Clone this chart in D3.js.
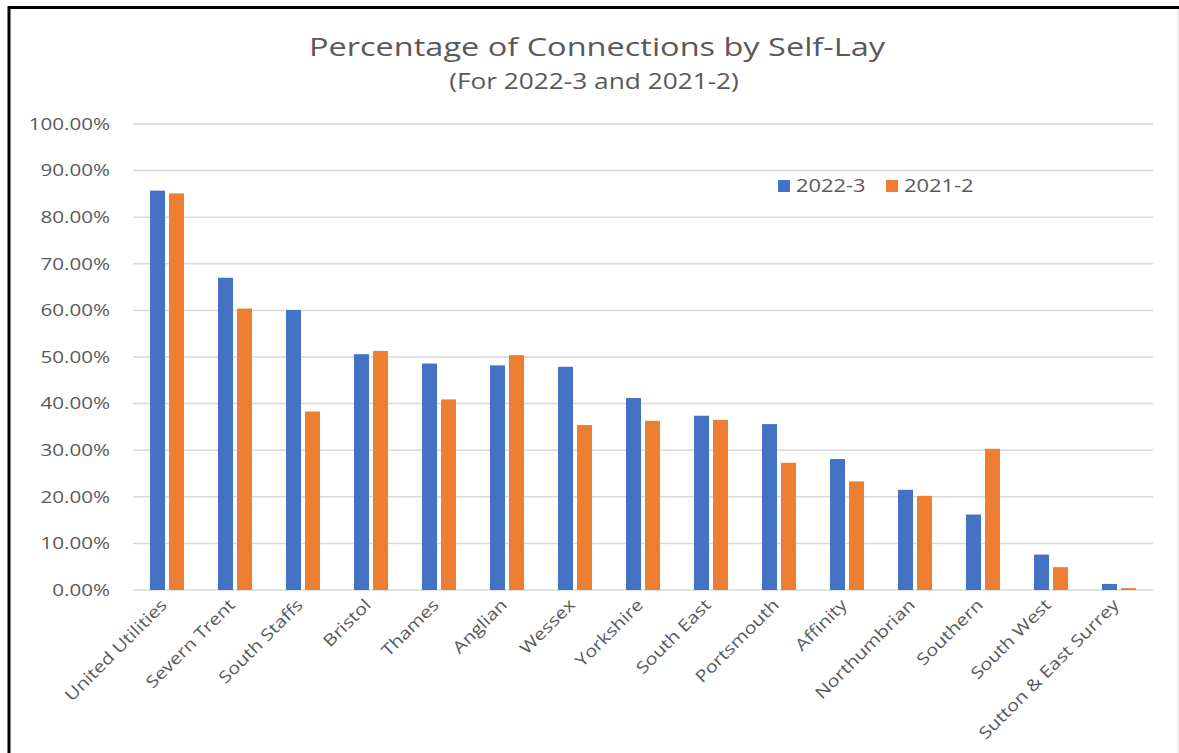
<!DOCTYPE html>
<html>
<head>
<meta charset="utf-8">
<script src="https://cdn.jsdelivr.net/npm/d3@7"></script>
<style>
  html, body { margin: 0; padding: 0; background: #fff; }
  svg { display: block; }
</style>
</head>
<body>
<script>
const categories = ["United Utilities","Severn Trent","South Staffs","Bristol","Thames","Anglian","Wessex","Yorkshire","South East","Portsmouth","Affinity","Northumbrian","Southern","South West","Sutton & East Surrey"];
const series2022 = [85.7, 67.0, 60.1, 50.6, 48.6, 48.2, 47.9, 41.2, 37.4, 35.6, 28.1, 21.5, 16.2, 7.6, 1.3];
const series2021 = [85.1, 60.4, 38.3, 51.3, 40.9, 50.4, 35.4, 36.3, 36.5, 27.3, 23.3, 20.2, 30.3, 4.9, 0.4];
const seriesNames = ["2022-3", "2021-2"];
const yTicks = [0, 10, 20, 30, 40, 50, 60, 70, 80, 90, 100];
const titleText = "Percentage of Connections by Self-Lay";
const subtitleText = "(For 2022-3 and 2021-2)";

const W = 1179, H = 753;
const colors = ["#4472c4", "#ed7d31"];
const fontFam = "'Open Sans', 'Noto Sans', sans-serif";
const SX = 1.25; // wide glyphs of the source picture

const svg = d3.select("body").append("svg").attr("width", W).attr("height", H);
svg.append("rect").attr("width", W).attr("height", H).attr("fill", "#fff");

// frame
svg.append("line").attr("x1", 8).attr("x2", W).attr("y1", 7.5).attr("y2", 7.5).attr("stroke", "#000").attr("stroke-width", 3);
svg.append("line").attr("x1", 9).attr("x2", 9).attr("y1", 6).attr("y2", H).attr("stroke", "#000").attr("stroke-width", 3);
svg.append("line").attr("x1", 1178).attr("x2", 1178).attr("y1", 9).attr("y2", H).attr("stroke", "#ddd").attr("stroke-width", 1);

const x0 = d3.scaleBand().domain(categories).range([133, 1153]).paddingInner(0).paddingOuter(0);
const y = d3.scaleLinear().domain([0, 100]).range([590, 124]);

// gridlines
svg.append("g").selectAll("line").data(yTicks).join("line")
  .attr("x1", 133).attr("x2", 1153)
  .attr("y1", d => y(d)).attr("y2", d => y(d))
  .attr("stroke", "#d9d9d9").attr("stroke-width", 1.5);

// y labels
svg.append("g").selectAll("text").data(yTicks).join("text")
  .attr("transform", d => `translate(110,${y(d)}) scale(${SX},1)`)
  .attr("dy", "0.35em")
  .attr("text-anchor", "end")
  .attr("font-family", fontFam).attr("font-size", 16.5).attr("fill", "#595959")
  .text(d => d.toFixed(2) + "%");

// bars
const barW = 15, gap = 4;
const data = categories.map((c, i) => ({ c, v: [series2022[i], series2021[i]] }));
const groups = svg.append("g").selectAll("g").data(data).join("g")
  .attr("transform", d => `translate(${x0(d.c) + x0.bandwidth() / 2},0)`);
groups.selectAll("rect").data(d => d.v.map((v, k) => ({ v, k }))).join("rect")
  .attr("x", d => d.k === 0 ? -(barW + gap / 2) : gap / 2)
  .attr("width", barW)
  .attr("y", d => y(d.v))
  .attr("height", d => y(0) - y(d.v))
  .attr("fill", d => colors[d.k]);

// x labels (45 degrees, wide glyphs along the text direction)
svg.append("g").selectAll("text").data(categories).join("text")
  .attr("text-anchor", "end")
  .attr("font-family", fontFam).attr("font-size", 16.5).attr("fill", "#595959")
  .attr("transform", d => `translate(${x0(d) + x0.bandwidth() / 2 + 1},${606}) rotate(-45) scale(1.2,1)`)
  .text(d => d);

// title
svg.append("text").attr("transform", `translate(597,56) scale(${SX},1)`).attr("text-anchor", "middle")
  .attr("font-family", fontFam).attr("font-size", 26).attr("fill", "#595959")
  .text(titleText);
svg.append("text").attr("transform", `translate(594,89) scale(${SX},1)`).attr("text-anchor", "middle")
  .attr("font-family", fontFam).attr("font-size", 21).attr("fill", "#595959")
  .text(subtitleText);

// legend
const legX = [778, 886];
const leg = svg.append("g").selectAll("g").data(seriesNames).join("g")
  .attr("transform", (d, i) => `translate(${legX[i]},180)`);
leg.append("rect").attr("width", 12).attr("height", 12).attr("fill", (d, i) => colors[i]);
leg.append("text").attr("transform", `translate(18,6) scale(${SX},1)`).attr("dy", "0.35em")
  .attr("font-family", fontFam).attr("font-size", 17.5).attr("fill", "#595959")
  .text(d => d);
</script>
</body>
</html>
